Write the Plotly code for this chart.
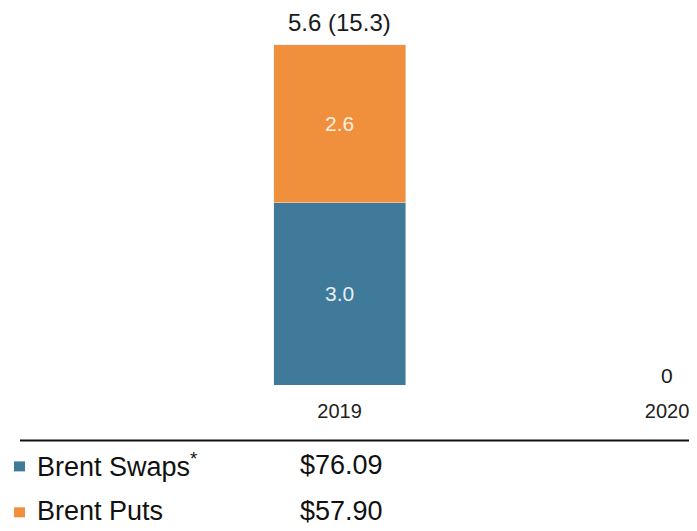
import plotly.graph_objects as go

# data
years = ["2019", "2020"]
swaps = [3.0, 0]
puts = [2.6, 0]
total_labels = ["5.6 (15.3)", "0"]
legend_names = ["Brent Swaps<sup>*</sup>", "Brent Puts"]
legend_prices = ["$76.09", "$57.90"]

blue = "#3F7A9A"
orange = "#F0903D"
font = "Liberation Sans, Arial, sans-serif"

# the page body has an 8px margin, so the figure is drawn 8px smaller
OFF = 8
W, H = 697 - OFF, 531 - OFF
bar_bottom = 385.5 - OFF
L, R, T = 10 - OFF, 0, 12
B = H - bar_bottom
plot_w = W - L - R
plot_h = H - T - B

xpos = [0, 1]
# 2019 centred near x=339.6, 2020 near x=667 (reference pixels)
px_per_unit = 327.5
x0 = -(339.6 - OFF - L) / px_per_unit
x1 = x0 + plot_w / px_per_unit
y1 = plot_h / 60.8


def py(Y):
    return (bar_bottom - (Y - OFF)) / plot_h


def px(X):
    return (X - OFF - L) / plot_w


fig = go.Figure()
fig.add_trace(go.Bar(x=xpos, y=swaps, marker_color=blue, width=0.403,
                     text=[f"{v:.1f}" if v else "" for v in swaps], textposition="inside",
                     insidetextanchor="middle", textfont=dict(color="#e6eff5", size=21, family=font),
                     name="Brent Swaps"))
fig.add_trace(go.Bar(x=xpos, y=puts, marker_color=orange, width=0.403,
                     text=[f"{v:.1f}" if v else "" for v in puts], textposition="inside",
                     insidetextanchor="middle", textfont=dict(color="#fdf0e0", size=21, family=font),
                     name="Brent Puts"))

totals = [s + p for s, p in zip(swaps, puts)]
shifts = [22, 10]
sizes = [24, 21]
for xv, tot, lab, sh, sz in zip(xpos, totals, total_labels, shifts, sizes):
    fig.add_annotation(x=xv, y=tot, text=lab, showarrow=False, yanchor="middle", yshift=sh,
                       font=dict(size=sz, color="#1a1a1a", family=font))

# separator line
fig.add_shape(type="line", xref="paper", yref="paper", x0=px(20), x1=px(697), y0=py(441), y1=py(441),
              line=dict(color="#111", width=2))

# legend table
colors = [blue, orange]
rows_y = [466, 512]
for name, price, c, ry in zip(legend_names, legend_prices, colors, rows_y):
    fig.add_shape(type="rect", xref="paper", yref="paper", x0=px(14), x1=px(25), y0=py(ry + 6), y1=py(ry - 4),
                  fillcolor=c, line=dict(width=0))
    fig.add_annotation(xref="paper", yref="paper", x=px(35), y=py(ry), text=name, showarrow=False,
                       xanchor="left", yanchor="middle", font=dict(size=27, color="#111", family=font))
    fig.add_annotation(xref="paper", yref="paper", x=px(298), y=py(ry), text=price, showarrow=False,
                       xanchor="left", yanchor="middle", font=dict(size=27, color="#111", family=font))

fig.update_layout(
    barmode="stack", width=W, height=H, showlegend=False,
    margin=dict(l=L, r=R, t=T, b=B),
    paper_bgcolor="white", plot_bgcolor="white",
    xaxis=dict(range=[x0, x1], tickvals=xpos, ticktext=years, showgrid=False, zeroline=False,
               showline=False, ticks="", ticklabelstandoff=12,
               tickfont=dict(size=20, color="#222", family=font)),
    yaxis=dict(range=[0, y1], visible=False),
)

fig.write_html("out.html")
